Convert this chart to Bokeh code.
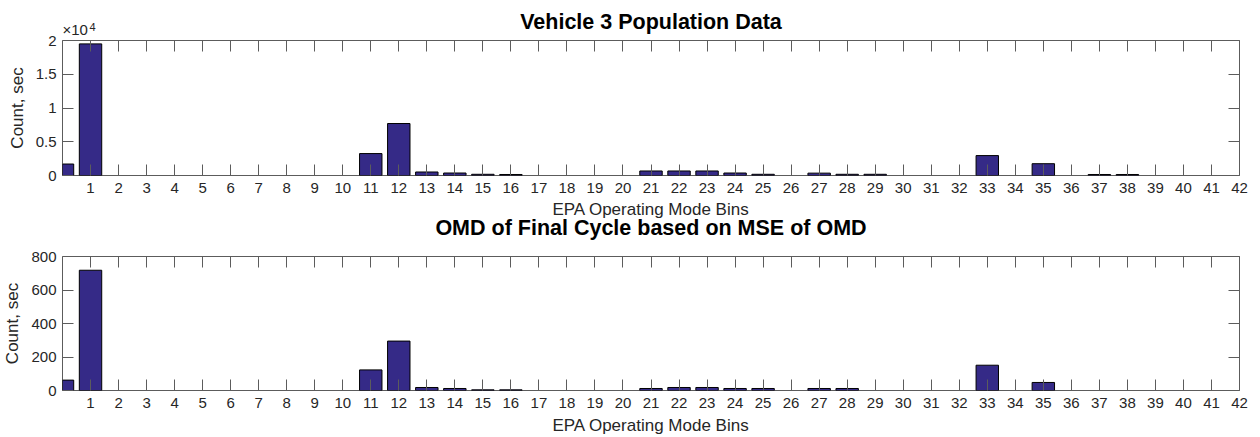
from bokeh.plotting import figure
from bokeh.models import FixedTicker, LinearAxis, Range1d, Title
from bokeh.layouts import column
from bokeh.embed import file_html
from bokeh.resources import INLINE

# ---- data ----
bins_top = [0, 1, 11, 12, 13, 14, 15, 16, 21, 22, 23, 24, 25, 27, 28, 29, 33, 35, 37, 38]
counts_top = [1700, 19500, 3250, 7700, 520, 370, 180, 150, 670, 670, 670, 370, 180,
              350, 180, 180, 2950, 1750, 150, 150]

bins_bot = [0, 1, 11, 12, 13, 14, 15, 16, 21, 22, 23, 24, 25, 27, 28, 33, 35]
counts_bot = [62, 718, 123, 295, 18, 12, 4, 4, 12, 18, 18, 12, 12, 12, 12, 151, 48]

x_ticks = list(range(1, 43))
top_yticks = [0, 5000, 10000, 15000, 20000]
top_ylabels = ["0", "0.5", "1", "1.5", "2"]
top_exponent_base = "\u00d710"
top_exponent_power = "4"
bot_yticks = [0, 200, 400, 600, 800]
bot_ylabels = ["0", "200", "400", "600", "800"]

title_top = "Vehicle 3 Population Data"
title_bot = "OMD of Final Cycle based on MSE of OMD"
xlabel = "EPA Operating Mode Bins"
ylabel = "Count, sec"

FONT = "Liberation Sans"
BAR = "#352A87"
AX = "#262626"
LINE = "#5c5c5c"
FRAME_H = 135


def style_axis(ax, show_labels):
    ax.axis_line_color = None
    ax.major_tick_in = 11
    ax.major_tick_out = 0
    ax.minor_tick_line_color = None
    ax.major_tick_line_color = LINE
    ax.major_tick_line_width = 1
    ax.major_label_text_font = FONT
    if show_labels:
        ax.major_label_text_color = AX
        ax.major_label_text_font_size = "15px"
    else:
        ax.major_label_text_color = None
        ax.major_label_text_font_size = "0px"
        ax.major_label_standoff = 0


def make(h, bins, counts, yticks, ylabels, ymax, mbt, mbb, xlab_standoff):
    p = figure(width=1260, height=h, title=None,
               x_range=Range1d(0, 42), y_range=Range1d(0, ymax),
               output_backend="svg", toolbar_location=None,
               x_axis_location=None, y_axis_location=None,
               min_border_left=61, min_border_right=21,
               min_border_top=mbt, min_border_bottom=mbb)
    p.vbar(x=bins, top=counts, width=0.8, bottom=0,
           fill_color=BAR, line_color="#000000", line_width=1)
    p.grid.visible = False
    p.outline_line_color = LINE
    p.outline_line_width = 1

    xt = FixedTicker(ticks=x_ticks)
    yt = FixedTicker(ticks=yticks)
    ymap = {t: l for t, l in zip(yticks, ylabels)}

    xb = LinearAxis(ticker=xt, axis_label=xlabel)
    style_axis(xb, True)
    xb.major_label_standoff = 7
    xb.axis_label_text_font = FONT
    xb.axis_label_text_font_size = "17px"
    xb.axis_label_text_font_style = "normal"
    xb.axis_label_text_color = AX
    xb.axis_label_standoff = xlab_standoff
    p.add_layout(xb, "below")

    yl = LinearAxis(ticker=yt, axis_label=ylabel)
    style_axis(yl, True)
    yl.major_label_overrides = ymap
    yl.major_label_standoff = 6
    yl.axis_label_text_font = FONT
    yl.axis_label_text_font_size = "17px"
    yl.axis_label_text_font_style = "normal"
    yl.axis_label_text_color = AX
    yl.axis_label_standoff = 6
    p.add_layout(yl, "left")

    xa = LinearAxis(ticker=xt)
    style_axis(xa, False)
    p.add_layout(xa, "above")

    yr = LinearAxis(ticker=yt)
    style_axis(yr, False)
    p.add_layout(yr, "right")
    return p


def title(text, standoff):
    return Title(text=text, align="center", text_font=FONT, text_font_size="21.5px",
                 text_font_style="bold", text_color="#000000", standoff=standoff)


p1 = make(240, bins_top, counts_top, top_yticks, top_ylabels, top_yticks[-1],
          40, 240 - 40 - FRAME_H, 4)
p1.add_layout(title(title_top, 14), "above")
# exponent of the upper y axis ("x10" with a raised "4") above the top-left corner
p1.add_layout(Title(text=top_exponent_base, align="left", offset=0, standoff=-74,
                    text_font=FONT, text_font_size="15px", text_font_style="normal",
                    text_color=AX), "above")
p1.add_layout(Title(text=top_exponent_power, align="left", offset=27, standoff=-61,
                    text_font=FONT, text_font_size="11px", text_font_style="normal",
                    text_color=AX), "above")
p1.add_layout(title(title_bot, -15), "below")

p2 = make(197, bins_bot, counts_bot, bot_yticks, bot_ylabels, bot_yticks[-1],
          16, 197 - 16 - FRAME_H, 5)

layout = column(p1, p2, spacing=0)

open("out.html", "w").write(file_html(layout, INLINE))
